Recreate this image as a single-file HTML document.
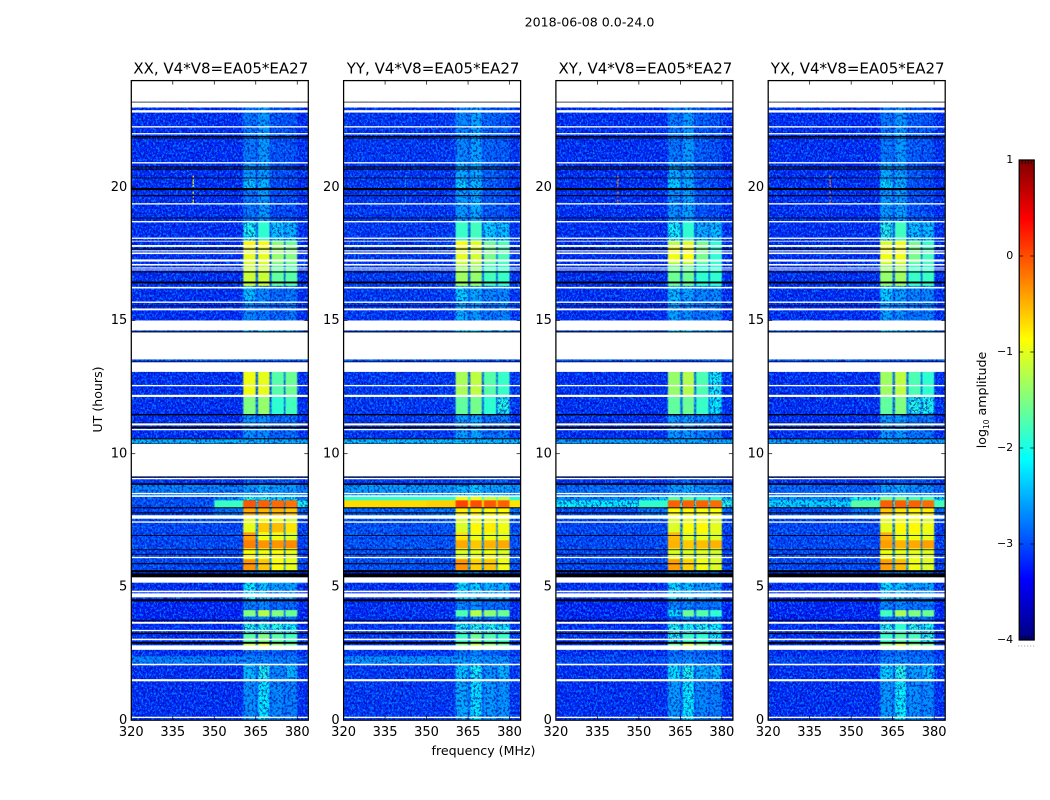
<!DOCTYPE html>
<html lang="en">
<head>
<meta charset="utf-8">
<title>2018-06-08 0.0-24.0</title>
<style>
html,body{margin:0;padding:0;background:#fff;}
svg{display:block;font-family:"DejaVu Sans","Liberation Sans",sans-serif;fill:#000;}
</style>
</head>
<body>
<svg id="chart" xmlns="http://www.w3.org/2000/svg" width="1050" height="800" viewBox="0 0 1050 800">
  <defs>
    <filter id="grain-light" x="0" y="0" width="100%" height="100%" color-interpolation-filters="sRGB">
      <feTurbulence type="fractalNoise" baseFrequency="0.55 0.42" numOctaves="2" seed="7"/>
      <feColorMatrix type="matrix" values="0 0 0 0 0  0 0 0 0 0.62  0 0 0 0 1  7 0 0 0 -3.4"/>
    </filter>
    <filter id="grain-dark" x="0" y="0" width="100%" height="100%" color-interpolation-filters="sRGB">
      <feTurbulence type="fractalNoise" baseFrequency="0.5 0.4" numOctaves="2" seed="23"/>
      <feColorMatrix type="matrix" values="0 0 0 0 0  0 0 0 0 0  0 0 0 0 0.6  7 0 0 0 -3.5"/>
    </filter>
    <filter id="soft-faint" x="-2%" y="0" width="104%" height="100%" color-interpolation-filters="sRGB">
      <feGaussianBlur stdDeviation="0.9 0"/>
    </filter>
    <filter id="soft-bright" x="-2%" y="0" width="104%" height="100%" color-interpolation-filters="sRGB">
      <feGaussianBlur stdDeviation="0.4 0"/>
    </filter>
  </defs>
  <text x="589.5" y="26.5" font-size="12.6" text-anchor="middle">2018-06-08 0.0-24.0</text>
  <text x="483.5" y="755" font-size="12.6" text-anchor="middle">frequency (MHz)</text>
  <text x="0" y="0" font-size="12.6" text-anchor="middle" transform="translate(102 399.5) rotate(-90)">UT (hours)</text>
  <text x="0" y="0" font-size="12.6" text-anchor="middle" transform="translate(986 400) rotate(-90)">log<tspan font-size="7.5" dy="3">10</tspan><tspan dy="-3"> amplitude</tspan></text>
  <g id="panels"></g>
  <g id="colorbar"></g>
</svg>
<script>
// ---- categories and axes ----
const panelTitles = ["XX, V4*V8=EA05*EA27", "YY, V4*V8=EA05*EA27", "XY, V4*V8=EA05*EA27", "YX, V4*V8=EA05*EA27"];
const freqTicks = [320, 335, 350, 365, 380];
const hourTicks = [0, 5, 10, 15, 20];
const colorbarTicks = [1, 0, -1, -2, -3, -4];

// ---- frequency columns (MHz): background, shoulder, four subbands, right edge ----
const columnStart = [320, 350, 360.5, 365.8, 370.7, 375.7, 380];
const columnEnd   = [384, 360.5, 365, 370, 375.2, 380, 384];
// ---- gaps between subbands (MHz) ----
const gapStart = [365, 370, 375.2];
const gapEnd   = [365.8, 370.7, 375.7];

// ---- time bands (UT hours) ----
const bandTop    = [23.2,20.93,20.3,19.9,18.71,18.0,17.74,17.15,16.31,15.75,14.63,13.54,13.09,12.19,11.5,10.58,9.15,8.85,8.4,8.25,7.99,7.65,7.4,7.05,6.75,6.45,6.04,5.63,5.18,4.5,4.13,3.9,3.68,3.25,2.87,2.64,2.4,2.12,1.46];
const bandBottom = [20.93,20.3,19.9,18.71,18.0,17.74,17.15,16.31,15.75,15.0,14.55,13.43,12.19,11.5,10.58,10.37,8.85,8.4,8.25,7.99,7.65,7.4,7.05,6.75,6.45,6.04,5.63,5.18,4.5,4.13,3.9,3.68,3.25,2.87,2.64,2.4,2.12,1.46,0.0];

// ---- log10 amplitude in the gaps, per band ----
const gapLevels = [-3.0,-3.0,-3.0,-3.0,-2.9,-2.7,-2.7,-2.8,-3.0,-3.0,-3.0,-3.0,-2.7,-2.7,-3.0,-2.5,-3.1,-2.7,-2.6,-1.7,-2.4,-2.4,-2.4,-2.4,-2.4,-2.4,-2.4,-3.0,-2.9,-3.1,-2.7,-3.0,-2.8,-2.8,-2.4,-3.1,-2.8,-3.0,-3.0];

// ---- log10 amplitude per band: [background, shoulder, sb1, sb2, sb3, sb4, right edge] ----
const xxLevels = [
[-3.2,-3.2,-2.8,-2.6,-3.0,-3.0,-3.2],[-3.2,-3.2,-2.6,-2.6,-3.0,-3.05,-3.2],[-3.2,-3.2,-2.35,-2.45,-3.05,-3.1,-3.2],[-3.2,-3.2,-2.8,-2.6,-3.05,-3.05,-3.2],
[-3.2,-3.2,-2.0,-1.9,-2.35,-2.45,-3.2],[-3.2,-3.2,-0.85,-0.85,-1.45,-1.6,-3.2],[-3.2,-3.2,-1.0,-1.0,-1.4,-1.5,-3.2],[-3.2,-3.2,-1.15,-1.15,-1.65,-1.7,-3.2],
[-3.2,-3.2,-2.4,-2.7,-2.85,-2.8,-3.2],[-3.2,-3.2,-2.7,-2.8,-2.9,-2.8,-3.2],[-3.0,-3.0,-2.2,-2.2,-2.4,-2.4,-3.0],[-3.0,-3.0,-3.0,-3.0,-3.0,-3.0,-3.0],
[-3.2,-3.2,-0.95,-1.0,-1.7,-1.6,-3.2],[-3.2,-3.2,-1.5,-1.4,-1.9,-1.8,-3.2],[-3.2,-3.2,-2.65,-2.65,-2.9,-2.85,-3.2],[-2.45,-2.45,-2.45,-2.45,-2.5,-2.5,-2.5],
[-3.2,-3.2,-3.0,-3.0,-3.0,-3.0,-3.2],[-2.75,-2.75,-2.6,-2.45,-2.6,-2.6,-2.75],[-3.0,-2.7,-2.0,-2.0,-2.2,-2.2,-2.8],[-3.0,-1.85,-0.05,-0.1,-0.15,-0.2,-2.0],
[-3.1,-2.8,-0.45,-0.5,-0.5,-0.6,-2.9],[-3.05,-3.05,-1.0,-0.95,-0.95,-1.1,-3.1],[-3.05,-3.05,-1.0,-0.6,-0.55,-0.75,-3.1],[-3.05,-3.05,-0.4,-0.95,-0.95,-1.05,-3.1],
[-3.05,-3.05,-0.25,-0.35,-0.35,-0.3,-3.1],[-3.05,-3.05,-0.9,-0.95,-0.9,-1.0,-3.1],[-3.05,-3.05,-0.35,-0.6,-0.9,-1.0,-3.1],[-3.2,-3.2,-2.6,-2.6,-2.8,-2.8,-3.2],
[-3.2,-3.2,-2.1,-2.35,-2.55,-2.55,-3.2],[-3.25,-3.25,-2.75,-2.7,-2.85,-2.85,-3.25],[-3.25,-3.25,-1.5,-1.25,-1.5,-1.6,-3.25],[-3.25,-3.25,-2.8,-2.7,-2.85,-2.85,-3.25],
[-3.2,-3.2,-1.95,-1.95,-1.95,-2.05,-3.2],[-3.2,-3.2,-1.7,-1.5,-1.7,-1.8,-3.2],[-3.2,-3.2,-1.2,-1.0,-1.4,-1.6,-3.2],[-3.2,-3.2,-2.9,-2.85,-2.95,-2.95,-3.2],[-2.75,-2.75,-2.7,-2.7,-2.75,-2.75,-3.0],
[-3.2,-3.2,-2.4,-2.0,-2.7,-2.45,-3.2],[-3.2,-3.2,-2.65,-2.15,-2.7,-2.75,-3.2]];

const yyLevels = [
[-3.15,-3.15,-2.7,-2.55,-2.9,-2.95,-3.15],[-3.15,-3.15,-2.5,-2.5,-2.9,-3.0,-3.15],[-3.15,-3.15,-2.3,-2.4,-2.95,-3.05,-3.15],[-3.15,-3.15,-2.6,-2.5,-2.95,-3.0,-3.15],
[-3.15,-3.15,-1.85,-1.8,-2.3,-2.4,-3.15],[-3.15,-3.15,-0.9,-1.0,-1.6,-1.75,-3.15],[-3.15,-3.15,-1.0,-1.1,-1.55,-1.75,-3.15],[-3.15,-3.15,-1.35,-1.4,-1.8,-1.85,-3.15],
[-3.15,-3.15,-2.3,-2.5,-2.7,-2.7,-3.15],[-3.15,-3.15,-2.5,-2.6,-2.8,-2.7,-3.15],[-3.0,-3.0,-2.2,-2.2,-2.4,-2.4,-3.0],[-3.0,-3.0,-3.0,-3.0,-3.0,-3.0,-3.0],
[-3.15,-3.15,-1.3,-1.2,-1.7,-1.85,-3.15],[-3.15,-3.15,-1.65,-1.55,-1.9,-1.95,-3.15],[-3.15,-3.15,-2.55,-2.55,-2.85,-2.75,-3.15],[-2.4,-2.4,-2.4,-2.4,-2.4,-2.4,-2.4],
[-3.15,-3.15,-3.0,-3.0,-3.0,-3.0,-3.15],[-2.6,-2.6,-2.45,-2.35,-2.55,-2.55,-2.65],[-1.9,-1.9,-1.0,-1.0,-1.2,-1.2,-2.0],[-0.7,-0.65,0.05,0.0,-0.05,-0.1,-0.75],
[-2.9,-2.8,-0.8,-0.8,-0.85,-0.85,-2.8],[-3.0,-3.0,-1.05,-1.0,-0.95,-1.05,-3.0],[-3.0,-3.0,-1.05,-0.85,-0.8,-0.95,-3.0],[-3.0,-3.0,-0.75,-0.95,-0.95,-1.0,-3.0],
[-3.0,-3.0,-0.45,-0.6,-0.5,-0.45,-3.0],[-3.0,-3.0,-1.05,-1.0,-0.95,-1.05,-3.0],[-3.0,-3.0,-0.35,-0.65,-0.6,-0.95,-3.0],[-3.2,-3.2,-2.5,-2.6,-2.8,-2.8,-3.2],
[-3.2,-3.2,-2.25,-2.25,-2.45,-2.45,-3.2],[-3.2,-3.2,-2.7,-2.65,-2.85,-2.85,-3.2],[-3.2,-3.2,-1.75,-1.25,-1.45,-1.6,-3.2],[-3.2,-3.2,-2.75,-2.7,-2.85,-2.85,-3.2],
[-3.15,-3.15,-2.0,-1.95,-1.95,-2.05,-3.15],[-3.15,-3.15,-1.85,-1.6,-1.75,-1.85,-3.15],[-3.15,-3.15,-1.5,-1.2,-1.4,-1.6,-3.15],[-3.15,-3.15,-2.85,-2.75,-2.9,-2.95,-3.15],[-2.65,-2.65,-2.55,-2.55,-2.65,-2.65,-3.0],
[-3.15,-3.15,-2.35,-2.05,-2.65,-2.45,-3.15],[-3.15,-3.15,-2.5,-2.2,-2.6,-2.65,-3.15]];

const xyLevels = [
[-3.2,-3.2,-2.8,-2.6,-2.95,-3.0,-3.2],[-3.2,-3.2,-2.5,-2.55,-2.95,-3.05,-3.2],[-3.2,-3.2,-2.3,-2.5,-3.0,-3.1,-3.2],[-3.2,-3.2,-2.65,-2.55,-3.0,-3.05,-3.2],
[-3.2,-3.2,-2.05,-1.9,-2.5,-2.4,-3.2],[-3.2,-3.2,-1.2,-1.0,-1.55,-1.9,-3.2],[-3.2,-3.2,-0.95,-0.9,-1.55,-1.9,-3.2],[-3.2,-3.2,-1.6,-1.6,-1.9,-1.9,-3.2],
[-3.2,-3.2,-2.4,-2.55,-2.7,-2.7,-3.2],[-3.2,-3.2,-2.55,-2.65,-2.8,-2.75,-3.2],[-3.0,-3.0,-2.2,-2.2,-2.4,-2.4,-3.0],[-3.0,-3.0,-3.0,-3.0,-3.0,-3.0,-3.0],
[-3.2,-3.2,-1.4,-1.25,-1.75,-2.05,-3.2],[-3.2,-3.2,-1.65,-1.6,-1.85,-2.1,-3.2],[-3.2,-3.2,-2.6,-2.6,-2.75,-2.8,-3.2],[-2.55,-2.55,-2.5,-2.5,-2.55,-2.55,-2.55],
[-3.2,-3.2,-3.0,-3.0,-3.0,-3.0,-3.2],[-2.85,-2.85,-2.6,-2.5,-2.7,-2.7,-2.85],[-2.7,-2.4,-1.7,-1.7,-1.9,-1.9,-2.4],[-2.1,-1.9,-0.1,-0.1,-0.1,-0.15,-1.95],
[-3.05,-2.8,-0.85,-0.85,-0.9,-0.9,-2.9],[-3.05,-3.05,-1.05,-1.0,-1.0,-1.1,-3.1],[-3.05,-3.05,-1.05,-0.9,-0.85,-1.0,-3.1],[-3.05,-3.05,-0.55,-1.0,-1.0,-1.05,-3.1],
[-3.05,-3.05,-0.5,-0.6,-0.55,-0.5,-3.1],[-3.05,-3.05,-1.05,-1.05,-1.05,-1.1,-3.1],[-3.05,-3.05,-0.4,-0.65,-0.95,-1.05,-3.1],[-3.2,-3.2,-2.6,-2.6,-2.8,-2.8,-3.2],
[-3.2,-3.2,-2.2,-2.35,-2.55,-2.55,-3.2],[-3.25,-3.25,-2.7,-2.7,-2.8,-2.8,-3.25],[-3.25,-3.25,-2.2,-1.6,-1.7,-1.9,-3.25],[-3.25,-3.25,-2.8,-2.7,-2.8,-2.8,-3.25],
[-3.2,-3.2,-2.0,-2.0,-2.0,-2.1,-3.2],[-3.2,-3.2,-1.95,-1.85,-1.9,-2.05,-3.2],[-3.2,-3.2,-1.55,-1.05,-1.45,-1.75,-3.2],[-3.2,-3.2,-2.9,-2.8,-2.9,-2.95,-3.2],[-3.05,-3.05,-2.75,-2.7,-2.8,-2.8,-3.05],
[-3.2,-3.2,-2.2,-2.0,-2.5,-2.4,-3.2],[-3.2,-3.2,-2.6,-2.15,-2.7,-2.75,-3.2]];

const yxLevels = [
[-3.2,-3.2,-2.8,-2.6,-2.95,-3.0,-3.2],[-3.2,-3.2,-2.5,-2.55,-2.95,-3.05,-3.2],[-3.2,-3.2,-2.25,-2.45,-3.0,-3.1,-3.2],[-3.2,-3.2,-2.6,-2.55,-3.0,-3.05,-3.2],
[-3.2,-3.2,-1.95,-1.8,-2.4,-2.4,-3.2],[-3.2,-3.2,-1.05,-0.95,-1.55,-1.85,-3.2],[-3.2,-3.2,-0.95,-0.95,-1.55,-1.8,-3.2],[-3.2,-3.2,-1.4,-1.35,-1.85,-1.85,-3.2],
[-3.2,-3.2,-2.3,-2.55,-2.7,-2.7,-3.2],[-3.2,-3.2,-2.55,-2.65,-2.8,-2.75,-3.2],[-3.0,-3.0,-2.2,-2.2,-2.4,-2.4,-3.0],[-3.0,-3.0,-3.0,-3.0,-3.0,-3.0,-3.0],
[-3.2,-3.2,-1.35,-1.2,-1.75,-1.9,-3.2],[-3.2,-3.2,-1.65,-1.5,-1.95,-2.0,-3.2],[-3.2,-3.2,-2.6,-2.6,-2.8,-2.8,-3.2],[-2.55,-2.55,-2.5,-2.5,-2.55,-2.55,-2.55],
[-3.2,-3.2,-3.0,-3.0,-3.0,-3.0,-3.2],[-2.9,-2.9,-2.6,-2.5,-2.7,-2.7,-2.9],[-2.6,-2.1,-1.6,-1.6,-1.8,-1.8,-2.3],[-2.25,-1.7,-0.08,-0.08,-0.1,-0.15,-1.8],
[-3.05,-2.8,-0.6,-0.75,-0.8,-0.8,-2.9],[-3.05,-3.05,-1.0,-0.95,-0.95,-1.05,-3.1],[-3.05,-3.05,-1.0,-0.85,-0.85,-0.95,-3.1],[-3.05,-3.05,-0.5,-0.95,-0.95,-1.0,-3.1],
[-3.05,-3.05,-0.4,-0.5,-0.45,-0.4,-3.1],[-3.05,-3.05,-0.95,-1.0,-1.0,-1.05,-3.1],[-3.05,-3.05,-0.4,-0.55,-0.95,-1.05,-3.1],[-3.2,-3.2,-2.6,-2.6,-2.8,-2.8,-3.2],
[-3.2,-3.2,-2.2,-2.35,-2.55,-2.55,-3.2],[-3.25,-3.25,-2.7,-2.7,-2.8,-2.8,-3.25],[-3.25,-3.25,-1.8,-1.3,-1.5,-1.6,-3.25],[-3.25,-3.25,-2.8,-2.7,-2.8,-2.8,-3.25],
[-3.2,-3.2,-1.95,-1.9,-1.95,-2.0,-3.2],[-3.2,-3.2,-1.85,-1.7,-1.8,-1.95,-3.2],[-3.2,-3.2,-1.45,-1.1,-1.45,-1.65,-3.2],[-3.2,-3.2,-2.9,-2.8,-2.9,-2.95,-3.2],[-3.05,-3.05,-2.75,-2.7,-2.8,-2.8,-3.05],
[-3.2,-3.2,-2.25,-1.95,-2.55,-2.4,-3.2],[-3.2,-3.2,-2.6,-2.1,-2.65,-2.7,-3.2]];

const panelLevels = [xxLevels, yyLevels, xyLevels, yxLevels];

// ---- flagged integrations (UT hours) ----
const whiteStart = [24.0,23.18,22.89,22.29,22.03,20.94,19.40,18.73,18.11,17.99,17.83,17.63,17.55,17.29,17.12,16.99,16.91,16.26,15.71,15.45,15.0,14.55,13.43,12.58,12.21,11.14,10.93,10.37,9.09,8.53,8.44,7.69,7.46,6.13,5.36,4.86,4.76,3.69,3.39,3.06,2.81,2.12,1.54,0.13];
const whiteEnd   = [23.21,22.99,22.80,22.24,21.98,20.89,19.35,18.68,18.06,17.96,17.76,17.59,17.49,17.21,17.06,16.95,16.88,16.20,15.66,15.38,14.63,13.54,13.07,12.53,12.13,11.06,10.88,9.15,9.04,8.48,8.38,7.56,7.41,6.08,5.16,4.80,4.61,3.62,3.34,3.0,2.64,2.06,1.46,0.08];
const blackStart = [23.21,21.92,21.86,20.78,20.70,20.36,19.97,19.70,18.86,17.70,17.28,16.84,16.46,15.56,14.59,13.46,11.49,11.16,11.01,10.58,10.39,9.15,8.89,7.99,7.80,6.95,6.41,6.24,5.89,5.63,5.51,4.54,3.77,3.28,2.94];
const blackEnd   = [23.18,21.88,21.83,20.74,20.66,20.33,19.89,19.66,18.83,17.66,17.25,16.80,16.39,15.53,14.55,13.43,11.44,11.12,10.95,10.54,10.35,9.11,8.83,7.95,7.76,6.92,6.38,6.21,5.85,5.55,5.36,4.46,3.73,3.23,2.87];

// ---- narrow RFI spikes: one frequency, listed hours and amplitude per panel ----
const rfiFreq = [342.4, 342.4, 342.4, 342.4];
const rfiHours = [20.4,20.25,20.15,20.05,19.8,19.65,19.5,19.4];
const rfiLevel = [-0.8, -2.6, -0.2, -0.3];

const NS = 'http://www.w3.org/2000/svg';
const plotTop = 80.6, plotBottom = 720.2, plotWidth = 177;
const plotLefts = [131.3, 343.6, 555.9, 768.2];

function hourToY(h) { return plotBottom - (h / 24) * (plotBottom - plotTop); }
function freqToX(f, left) { return left + ((f - 320) / 64) * plotWidth; }
function clamp01(v) { return Math.max(0, Math.min(1, v)); }
function jet(t) {
  const r = clamp01(Math.min(4 * t - 1.5, -4 * t + 4.5));
  const g = clamp01(Math.min(4 * t - 0.5, -4 * t + 3.5));
  const b = clamp01(Math.min(4 * t + 0.5, -4 * t + 2.5));
  return 'rgb(' + Math.round(r * 255) + ',' + Math.round(g * 255) + ',' + Math.round(b * 255) + ')';
}
function levelColor(v) { return jet((v + 4) / 5); }
function el(tag, attrs, parent) {
  const e = document.createElementNS(NS, tag);
  for (const k in attrs) e.setAttribute(k, attrs[k]);
  parent.appendChild(e);
  return e;
}

const root = document.getElementById('panels');
const defs = document.querySelector('defs');

plotLefts.forEach(function (left, p) {
  const g = el('g', {}, root);
  
  

  const clip = el('clipPath', { id: 'clip' + p }, defs);
  el('rect', { x: left, y: plotTop, width: plotWidth, height: plotBottom - plotTop }, clip);
  const body = el('g', { 'clip-path': 'url(#clip' + p + ')' }, g);
  el('rect', { x: left, y: plotTop, width: plotWidth, height: plotBottom - plotTop, fill: '#fff' }, body);

  const faint = el('g', { filter: 'url(#soft-faint)' }, body);
  const grainA = el('rect', { x: left, y: plotTop, width: plotWidth, height: plotBottom - plotTop, filter: 'url(#grain-light)', opacity: 0.7 }, body);
  
  
  const grainB = el('rect', { x: left, y: plotTop, width: plotWidth, height: plotBottom - plotTop, filter: 'url(#grain-dark)', opacity: 0.6 }, body);
  
  
  const bright = el('g', { filter: 'url(#soft-bright)' }, body);

  panelLevels[p].forEach(function (row, b) {
    const y0 = hourToY(bandTop[b]);
    const y1 = hourToY(bandBottom[b]);
    row.forEach(function (v, c) {
      const x0 = freqToX(columnStart[c], left);
      const x1 = freqToX(columnEnd[c], left);
      const cell = el('rect', { x: x0, y: y0, width: x1 - x0, height: y1 - y0 + 0.3, fill: levelColor(v) }, v > -1.95 ? bright : faint);
      
      
      if (c === 0) {
        gapStart.forEach(function (f, k) {
          const gx0 = freqToX(f, left);
          const gx1 = freqToX(gapEnd[k], left);
          const gap = el('rect', { x: gx0, y: y0, width: gx1 - gx0, height: y1 - y0 + 0.3, fill: levelColor(gapLevels[b]) }, faint);
          
          
        });
      }
    });
  });

  rfiHours.forEach(function (h) {
    const pt = el('rect', { x: freqToX(rfiFreq[p], left) - 0.6, y: hourToY(h) - 1, width: 1.2, height: 2, fill: levelColor(rfiLevel[p]) }, body);
    
    
  });

  blackStart.forEach(function (h, i) {
    const y0 = hourToY(h), y1 = hourToY(blackEnd[i]);
    const r = el('rect', { x: left, y: y0, width: plotWidth, height: y1 - y0, fill: '#000' }, body);
    
    
  });
  whiteStart.forEach(function (h, i) {
    const y0 = hourToY(h), y1 = hourToY(whiteEnd[i]);
    const r = el('rect', { x: left, y: y0, width: plotWidth, height: y1 - y0, fill: '#fff' }, body);
    
    
  });

  const frame = el('rect', { x: left, y: plotTop, width: plotWidth, height: plotBottom - plotTop, fill: 'none', stroke: '#000', 'stroke-width': 1.25 }, g);
  
  

  const title = el('text', { x: left + plotWidth / 2 + 1, y: plotTop - 7, 'font-size': 15, 'text-anchor': 'middle' }, g);
  title.textContent = panelTitles[p];
  
  

  freqTicks.forEach(function (f) {
    const x = freqToX(f, left);
    [[plotBottom, plotBottom - 4], [plotTop, plotTop + 4]].forEach(function (s) {
      const t = el('line', { x1: x, x2: x, y1: s[0], y2: s[1], stroke: '#000', 'stroke-width': 0.7 }, g);
      
      
    });
    const lab = el('text', { x: x, y: plotBottom + 16, 'font-size': 13, 'text-anchor': 'middle' }, g);
    lab.textContent = f;
    
    
  });

  hourTicks.forEach(function (h) {
    const y = hourToY(h);
    [[left, left + 4], [left + plotWidth, left + plotWidth - 4]].forEach(function (s) {
      const t = el('line', { x1: s[0], x2: s[1], y1: y, y2: y, stroke: '#000', 'stroke-width': 0.7 }, g);
      
      
    });
    const lab = el('text', { x: left - 4, y: y + 3.7, 'font-size': 13, 'text-anchor': 'end' }, g);
    lab.textContent = h;
    
    
  });
});

// ---- colorbar ----
const cb = document.getElementById('colorbar');
const cbLeft = 1019.2, cbWidth = 15, cbTop = 160, cbBottom = 640;
function levelToY(v) { return cbBottom - ((v + 4) / 5) * (cbBottom - cbTop); }
for (let i = 0; i < 256; i++) {
  const v0 = -4 + (i / 256) * 5;
  const v1 = -4 + ((i + 1) / 256) * 5;
  const seg = el('rect', { x: cbLeft, y: levelToY(v1), width: cbWidth, height: levelToY(v0) - levelToY(v1) + 0.4, fill: levelColor(v0) }, cb);
  
  
}
const cbFrame = el('rect', { x: cbLeft, y: cbTop, width: cbWidth, height: cbBottom - cbTop, fill: 'none', stroke: '#000', 'stroke-width': 1.25 }, cb);


colorbarTicks.forEach(function (v) {
  const y = levelToY(v);
  [[cbLeft, cbLeft + 4], [cbLeft + cbWidth, cbLeft + cbWidth - 4]].forEach(function (s) {
    const t = el('line', { x1: s[0], x2: s[1], y1: y, y2: y, stroke: '#000', 'stroke-width': 0.7 }, cb);
    
    
  });
  const lab = el('text', { x: cbLeft - 6, y: y + 3.2, 'font-size': 11, 'text-anchor': 'end' }, cb);
  lab.textContent = String(v).replace('-', '\u2212');
  
  
});
[[cbTop, cbTop + 4], [cbBottom, cbBottom - 4]].forEach(function (s) {
  for (let k = 1; k < 5; k++) {
    const x = cbLeft + k * cbWidth / 5;
    const t = el('line', { x1: x, x2: x, y1: s[0], y2: s[1], stroke: '#000', 'stroke-width': 0.7 }, cb);
    
    
  }
});
const dots = el('line', { x1: cbLeft - 1, x2: cbLeft + cbWidth + 1, y1: 646, y2: 646, stroke: '#999', 'stroke-width': 1, 'stroke-dasharray': '1 2' }, cb);


</script>
</body>
</html>
